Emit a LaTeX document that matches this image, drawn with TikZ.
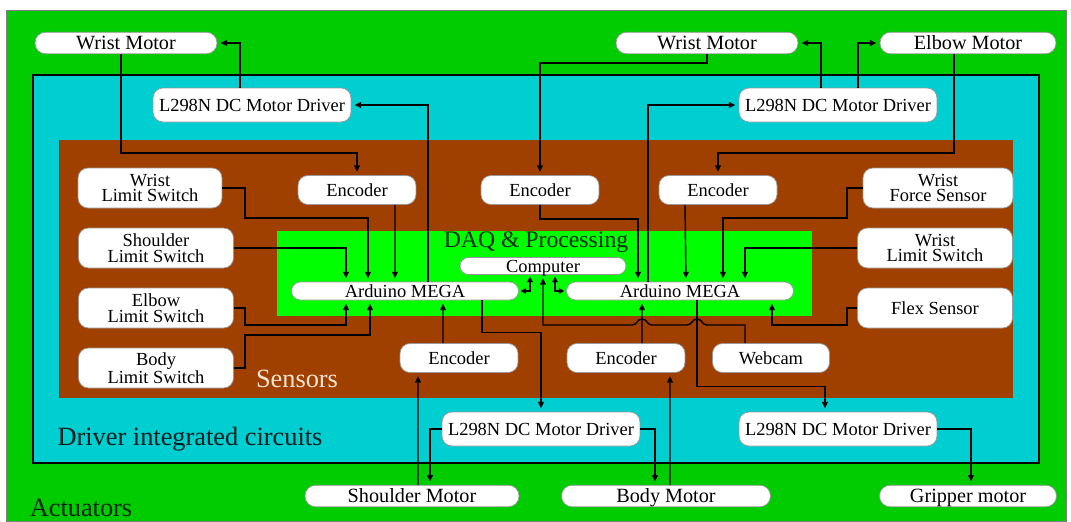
\documentclass[tikz,border=0pt]{standalone}
\usepackage{fontspec}
\setmainfont{Liberation Serif}
\usetikzlibrary{arrows.meta}
\definecolor{actgreen}{RGB}{0,204,0}
\definecolor{drvcyan}{RGB}{0,206,209}
\definecolor{senbrown}{RGB}{160,64,0}
\definecolor{daqgreen}{RGB}{0,255,0}
\definecolor{sentext}{RGB}{245,228,210}
\begin{document}
\begin{tikzpicture}[x=0.02cm, y=-0.02cm,
    box/.style={draw=gray!80, fill=white, line width=0.4pt, rounded corners=0.2cm, inner sep=0pt, align=center, font=\fontsize{10.5}{9}\selectfont},
    oneline/.style={box, text height=8pt, text depth=1pt},
    motor/.style={oneline, minimum height=0.43cm, rounded corners=0.21cm, font=\fontsize{11.5}{12}\selectfont, text height=8.7pt, text depth=1.1pt},
    driver/.style={oneline, minimum width=3.96cm, minimum height=0.68cm},
    encoder/.style={oneline, minimum width=2.36cm, minimum height=0.58cm},
    sensor/.style={box, minimum width=3.1cm, minimum height=0.8cm},
    board/.style={oneline, minimum width=4.54cm, minimum height=0.36cm, rounded corners=0.18cm},
    wire/.style={line width=0.8pt, -{Triangle[length=3.6pt,width=3.4pt]}, shorten >=2pt},
    link/.style={line width=0.8pt, {Triangle[length=3.2pt,width=3.2pt]}-{Triangle[length=3.2pt,width=3.2pt]}, shorten >=1pt, shorten <=1pt},
    region/.style={font=\fontsize{15}{16}\selectfont}]
    \useasboundingbox (0,0) rectangle (1071,521);
    \fill[white] (0,0) rectangle (1071,521);
    \draw[gray, fill=actgreen] (6,10) rectangle (1066,521);
    \draw[line width=1.2pt, fill=drvcyan] (33,75) rectangle (1039,463);
    \fill[senbrown] (59,140) rectangle (1013,398);
    \fill[daqgreen] (277,231) rectangle (812,316);

    \node[region, text={rgb,255:red,0;green,35;blue,0}] (lblact) at (81,508) {Actuators};
    \node[region, text={rgb,255:red,0;green,30;blue,30}] (lbldrv) at (190,439) {Driver integrated circuits};
    \node[region, text=sentext] (lblsen) at (297,379) {Sensors};
    \node[region, font=\fontsize{13.5}{14}\selectfont, text={rgb,255:red,0;green,45;blue,0}] (lbldaq) at (536,242) {DAQ \& Processing};

    \node[motor, minimum width=3.64cm] (wmL) at (126,43) {Wrist Motor};
    \node[motor, minimum width=3.64cm] (wmR) at (707,43) {Wrist Motor};
    \node[motor, minimum width=3.52cm] (emT) at (968,43) {Elbow Motor};
    \node[driver] (drvL) at (252,105) {L298N DC Motor Driver};
    \node[driver] (drvR) at (838,105) {L298N DC Motor Driver};
    \node[encoder] (encA) at (357,190) {Encoder};
    \node[encoder] (encB) at (540,190) {Encoder};
    \node[encoder] (encC) at (718,190) {Encoder};
    \node[sensor, minimum width=2.88cm] (lsW) at (150,188) {Wrist\\Limit Switch};
    \node[sensor] (lsS) at (156,248) {Shoulder\\Limit Switch};
    \node[sensor] (lsE) at (156,308) {Elbow\\Limit Switch};
    \node[sensor] (lsB) at (156,368) {Body\\Limit Switch};
    \node[sensor, minimum width=3.0cm] (fsW) at (938,188) {Wrist\\Force Sensor};
    \node[sensor] (lsW2) at (935,248) {Wrist\\Limit Switch};
    \node[sensor] (flex) at (935,308) {Flex Sensor};
    \node[board, minimum width=3.32cm, minimum height=0.34cm, rounded corners=0.17cm] (comp) at (543,266) {Computer};
    \node[board] (ardL) at (405,291) {Arduino MEGA};
    \node[board] (ardR) at (680,291) {Arduino MEGA};
    \node[encoder] (encD) at (459,358) {Encoder};
    \node[encoder] (encE) at (626,358) {Encoder};
    \node[encoder, minimum width=2.34cm] (cam) at (771,358) {Webcam};
    \node[driver] (drvB) at (541,429) {L298N DC Motor Driver};
    \node[driver] (drvC) at (838,429) {L298N DC Motor Driver};
    \node[motor, minimum width=4.28cm] (smB) at (412,496) {Shoulder Motor};
    \node[motor, minimum width=4.18cm] (bmB) at (666,496) {Body Motor};
    \node[motor, minimum width=3.54cm] (gmB) at (968,496) {Gripper motor};

    \draw[wire] ([xshift=-0.1cm]wmL.south) -- ++(0,99) -| (encA.north);
    \draw[wire] ([xshift=-0.24cm]drvL.north) |- (wmL.east);
    \draw[wire] ([xshift=0.46cm]ardL.north) |- (drvL.east);
    \draw[wire] (lsW.east) -| (245,218) -| ([xshift=-0.74cm]ardL.north);
    \draw[wire] (lsS.east) -| ([xshift=-1.18cm]ardL.north);
    \draw[wire] ([xshift=0.76cm]encA.south) -- ([xshift=-0.2cm]ardL.north);
    \draw[wire] (lsE.east) -| (245,325) -| ([xshift=-1.18cm]ardL.south);
    \draw[wire] (lsB.east) -| (245,335) -| ([xshift=-0.7cm]ardL.south);
    \draw[wire] ([xshift=-0.32cm]encD.north) -- ([xshift=0.76cm]ardL.south);
    \draw[wire] ([xshift=1.54cm]ardL.south) -- ++(0,32) -| (drvB.north);
    \draw[wire] ([xshift=0.12cm]smB.north) -- ([xshift=-0.82cm]encD.south);
    \draw[wire] (drvB.west) -| ([xshift=0.36cm]smB.north);
    \draw[wire] (drvB.east) -| ([xshift=-0.22cm]bmB.north);
    \draw[wire] ([xshift=0.08cm]bmB.north) -- ([xshift=0.88cm]encE.south);
    \draw[wire] ([xshift=0.32cm]encE.north) -- ([xshift=-0.76cm]ardR.south);
    \draw[wire] ([xshift=-0.52cm]cam.north) |- (707,325) .. controls (702,325) and (702,319) .. (697,319) .. controls (692,319) and (692,325) .. (687,325) -- (652,325) .. controls (647,325) and (647,319) .. (642,319) .. controls (637,319) and (637,325) .. (632,325) -| (comp.south);
    \draw[wire] ([xshift=0.34cm]ardR.south) -- ++(0,86) -| ([xshift=-0.26cm]drvC.north);
    \draw[wire] (drvC.east) -| ([xshift=0.06cm]gmB.north);
    \draw[wire] (flex.west) -| (847,325) -| ([xshift=1.84cm]ardR.south);
    \draw[link] (ardL.east) -| ([xshift=-0.26cm]comp.south);
    \draw[link] (ardR.west) -| ([xshift=0.24cm]comp.south);
    \draw[wire] (wmR.south) -- ++(0,9) -| (encB.north);
    \draw[wire] ([xshift=-0.34cm]drvR.north) |- (wmR.east);
    \draw[wire] ([xshift=0.4cm]drvR.north) |- (emT.west);
    \draw[wire] ([xshift=-0.28cm]emT.south) -- ++(0,99) -| (encC.north);
    \draw[wire] ([xshift=-0.64cm]ardR.north) |- (drvR.west);
    \draw[wire] (encB.south) -- ++(0,14) -| ([xshift=-0.84cm]ardR.north);
    \draw[wire] ([xshift=-0.66cm]encC.south) -- ([xshift=0.12cm]ardR.north);
    \draw[wire] (fsW.west) -| (847,218) -| ([xshift=0.86cm]ardR.north);
    \draw[wire] (lsW2.west) -| ([xshift=1.3cm]ardR.north);
\end{tikzpicture}
\end{document}
